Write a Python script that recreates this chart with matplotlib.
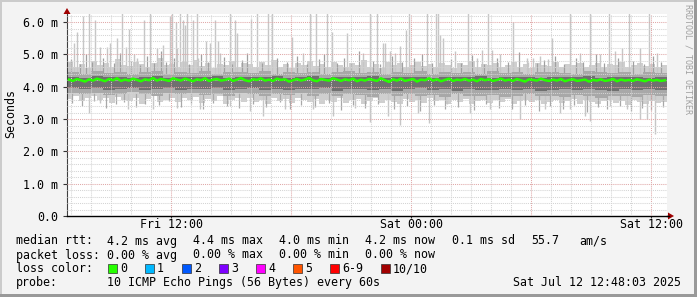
import matplotlib
matplotlib.use("Agg")
import matplotlib.pyplot as plt
from matplotlib.patches import Rectangle, Polygon
from datetime import datetime, timedelta

# ---------------- data (values in ms, times in minutes from start) ----------------
start = datetime(2025, 7, 11, 6, 48)
span_min = 1800

light_hi = [4.75, 4.62, 4.70, 4.58, 4.80, 4.66, 4.72, 4.60, 4.85, 4.68,
            4.64, 4.78, 4.70, 4.62, 4.74, 4.90, 4.66, 4.70, 4.60, 4.76,
            4.68, 4.82, 4.64, 4.72, 4.58, 4.70, 4.66, 4.80, 4.62, 4.74,
            4.70, 4.60, 4.76, 4.66, 4.84, 4.62, 4.70, 4.58, 4.72, 4.68,
            4.80, 4.64, 4.70, 4.62, 4.76, 4.68, 4.60, 4.74, 4.66, 4.82,
            4.62, 4.70, 4.58, 4.76, 4.66, 4.72, 4.60, 4.68, 4.78, 4.64,
            4.70, 4.62, 4.74, 4.66, 4.58, 4.72, 4.68, 4.80, 4.62, 4.70,
            4.66, 4.74, 4.60, 4.68, 4.76, 4.62, 4.70, 4.58, 4.72, 4.66,
            4.64, 4.78, 4.62, 4.70, 4.66, 4.74, 4.60, 4.68, 4.72, 4.62,
            4.70, 4.66, 4.76, 4.60, 4.68, 4.72, 4.64, 4.70, 4.62, 4.68]
light_lo = [3.62, 3.70, 3.55, 3.66, 3.72, 3.58, 3.64, 3.50, 3.68, 3.60,
            3.56, 3.66, 3.48, 3.62, 3.70, 3.54, 3.60, 3.66, 3.52, 3.64,
            3.58, 3.68, 3.50, 3.62, 3.56, 3.70, 3.46, 3.60, 3.64, 3.54,
            3.66, 3.52, 3.60, 3.48, 3.64, 3.56, 3.62, 3.50, 3.66, 3.58,
            3.54, 3.62, 3.46, 3.60, 3.52, 3.66, 3.50, 3.58, 3.62, 3.48,
            3.56, 3.64, 3.50, 3.60, 3.54, 3.46, 3.62, 3.52, 3.58, 3.50,
            3.64, 3.56, 3.60, 3.48, 3.58, 3.52, 3.62, 3.46, 3.56, 3.60,
            3.50, 3.58, 3.54, 3.62, 3.48, 3.56, 3.60, 3.52, 3.58, 3.46,
            3.54, 3.60, 3.50, 3.56, 3.62, 3.48, 3.58, 3.52, 3.46, 3.56,
            3.60, 3.50, 3.56, 3.44, 3.58, 3.52, 3.48, 3.56, 3.50, 3.54]

mid_hi = [4.45, 4.40, 4.48, 4.42, 4.46, 4.38, 4.44, 4.50, 4.40, 4.46,
          4.42, 4.48, 4.40, 4.44, 4.46, 4.42, 4.48, 4.40, 4.45, 4.42,
          4.46, 4.40, 4.44, 4.48, 4.42, 4.46, 4.40, 4.44, 4.42, 4.48,
          4.40, 4.46, 4.42, 4.44, 4.40, 4.48, 4.42, 4.46, 4.40, 4.44,
          4.46, 4.42, 4.40, 4.48, 4.44, 4.42, 4.46, 4.40, 4.44, 4.42]
mid_lo = [3.80, 3.76, 3.82, 3.74, 3.78, 3.84, 3.76, 3.72, 3.80, 3.76,
          3.82, 3.74, 3.78, 3.72, 3.80, 3.76, 3.70, 3.78, 3.74, 3.80,
          3.72, 3.76, 3.70, 3.78, 3.74, 3.68, 3.76, 3.72, 3.78, 3.70,
          3.74, 3.68, 3.76, 3.72, 3.70, 3.74, 3.68, 3.72, 3.76, 3.70,
          3.72, 3.68, 3.74, 3.70, 3.66, 3.72, 3.70, 3.68, 3.74, 3.70]

dark_hi = [4.30, 4.28, 4.32, 4.29, 4.31, 4.27, 4.30, 4.33, 4.28, 4.30,
           4.31, 4.29, 4.32, 4.28, 4.30, 4.31, 4.29, 4.33, 4.28, 4.30,
           4.32, 4.27, 4.30, 4.31, 4.29, 4.32, 4.28, 4.30, 4.31, 4.29,
           4.28, 4.31, 4.30, 4.29, 4.32, 4.28, 4.30, 4.31, 4.29, 4.28,
           4.31, 4.30, 4.29, 4.32, 4.28, 4.30, 4.29, 4.31, 4.28, 4.30]
dark_lo = [3.95, 3.92, 3.97, 3.90, 3.94, 3.96, 3.91, 3.93, 3.95, 3.90,
           3.94, 3.92, 3.96, 3.90, 3.93, 3.95, 3.91, 3.94, 3.89, 3.93,
           3.92, 3.95, 3.88, 3.92, 3.94, 3.90, 3.93, 3.88, 3.92, 3.95,
           3.90, 3.92, 3.88, 3.94, 3.91, 3.89, 3.93, 3.90, 3.92, 3.88,
           3.91, 3.94, 3.89, 3.92, 3.90, 3.88, 3.93, 3.90, 3.92, 3.91]

median = [4.22, 4.18, 4.24, 4.20, 4.16, 4.23, 4.19, 4.25, 4.21, 4.17,
          4.24, 4.20, 4.26, 4.18, 4.22, 4.19, 4.25, 4.21, 4.17, 4.23,
          4.20, 4.27, 4.19, 4.24, 4.21, 4.18, 4.26, 4.22, 4.19, 4.25,
          4.21, 4.17, 4.23, 4.20, 4.26, 4.18, 4.22, 4.24, 4.19, 4.21,
          4.25, 4.18, 4.22, 4.27, 4.20, 4.17, 4.23, 4.21, 4.26, 4.19,
          4.22, 4.18, 4.25, 4.21, 4.23, 4.16, 4.20, 4.24, 4.19, 4.22,
          4.27, 4.20, 4.17, 4.24, 4.21, 4.19, 4.26, 4.22, 4.18, 4.23,
          4.20, 4.25, 4.17, 4.22, 4.19, 4.24, 4.21, 4.18, 4.26, 4.20,
          4.15, 4.23, 4.19, 4.25, 4.18, 4.21, 4.24, 4.16, 4.22, 4.20,
          4.26, 4.19, 4.23, 4.17, 4.21, 4.25, 4.18, 4.22, 4.20, 4.24,
          4.19, 4.22, 4.17, 4.24, 4.20, 4.23, 4.18, 4.21, 4.25, 4.19,
          4.22, 4.18, 4.24, 4.20, 4.16, 4.23, 4.21, 4.19, 4.25, 4.20,
          4.18, 4.22, 4.19, 4.24, 4.17, 4.21, 4.23, 4.18, 4.20, 4.22,
          4.16, 4.21, 4.19, 4.23, 4.18, 4.20, 4.24, 4.17, 4.22, 4.19,
          4.21, 4.18, 4.23, 4.20, 4.17, 4.22, 4.19, 4.21, 4.18, 4.20]

spike_t = [6, 21, 30, 48, 66, 84, 99, 120, 129, 150, 165, 177, 186, 201, 210,
           231, 249, 270, 288, 309, 315, 327, 330, 339, 348, 354, 360, 378, 390,
           393, 417, 429, 444, 453, 459, 489, 504, 510, 552, 570, 603, 615, 675,
           708, 729, 747, 780, 795, 840, 888, 909, 930, 948, 954, 969, 984, 999,
           1017, 1026, 1080, 1107, 1113, 1119, 1128, 1164, 1203, 1230, 1245,
           1263, 1275, 1299, 1338, 1380, 1383, 1398, 1419, 1443, 1455, 1473,
           1509, 1539, 1569, 1599, 1626, 1644, 1665, 1686, 1719, 1746, 1770]
spike_v = [4.77, 5.36, 5.70, 6.19, 6.30, 6.07, 5.23, 5.23, 5.36, 5.50, 6.30, 5.23, 5.80, 5.00, 4.90,
           6.07, 6.30, 5.20, 5.30, 6.20, 6.30, 6.00, 5.20, 6.30, 6.05, 5.90, 6.30, 6.07, 6.30,
           4.90, 5.40, 5.36, 6.07, 5.40, 5.05, 6.30, 6.07, 5.66, 6.10, 6.30, 6.30, 6.30, 5.54,
           5.05, 6.30, 6.30, 6.30, 5.70, 5.66, 5.05, 6.30, 6.30, 5.35, 5.36, 5.10, 5.05, 5.25,
           5.76, 6.30, 6.30, 6.30, 6.30, 5.60, 5.50, 5.10, 6.30, 4.90, 5.15,
           6.30, 5.15, 5.00, 6.00, 4.90, 4.77, 4.90, 4.95, 4.85, 5.50, 4.55,
           6.30, 5.05, 6.30, 5.00, 6.30, 5.10, 5.20, 6.30, 5.20, 6.30, 5.05]

dip_t = [6, 66, 99, 183, 258, 330, 399, 489, 549, 588, 654, 738, 798, 864, 909,
         963, 999, 1053, 1086, 1140, 1209, 1269, 1359, 1434, 1479, 1509, 1554,
         1569, 1629, 1680, 1719, 1740, 1764]
dip_v = [3.70, 3.20, 3.50, 3.30, 3.30, 3.35, 3.30, 3.40, 3.25, 3.10, 3.30, 3.30, 3.10, 3.35, 2.90,
         3.10, 2.82, 3.20, 2.88, 3.45, 3.20, 3.30, 3.00, 3.30, 3.20, 3.30, 3.10,
         2.95, 3.40, 3.30, 3.00, 3.00, 2.55]

streak_up_t = [12, 39, 57, 75, 108, 141, 159, 192, 219, 240, 261, 282, 297, 321, 366,
               402, 423, 471, 495, 525, 540, 585, 630, 660, 690, 720, 756, 771, 810,
               831, 852, 876, 918, 939, 975, 1005, 1041, 1065, 1095, 1152, 1182, 1215,
               1251, 1290, 1323, 1356, 1410, 1431, 1464, 1491, 1527, 1548, 1587, 1611,
               1653, 1698, 1731, 1758, 1782]
streak_up_v = [4.85, 4.70, 5.00, 4.75, 4.90, 4.72, 5.05, 4.80, 4.68, 4.95, 4.74, 5.10, 4.78, 4.88, 4.70,
               5.00, 4.76, 4.92, 4.70, 4.84, 5.05, 4.72, 4.90, 4.78, 4.96, 4.70, 4.86, 5.00, 4.74,
               4.90, 4.72, 5.10, 4.80, 4.70, 4.95, 4.76, 4.88, 5.02, 4.72, 4.86, 4.74, 4.98,
               4.70, 4.90, 4.78, 5.06, 4.72, 4.84, 4.96, 4.70, 4.88, 4.76, 5.00, 4.72,
               4.90, 4.80, 4.70, 4.94, 4.76]
streak_dn_t = [15, 45, 81, 117, 147, 171, 207, 234, 276, 306, 342, 372, 408, 438, 480,
               516, 558, 597, 639, 669, 702, 744, 786, 822, 858, 894, 933, 981, 1020,
               1059, 1101, 1134, 1173, 1221, 1257, 1296, 1335, 1374, 1416, 1449, 1488,
               1521, 1560, 1593, 1620, 1659, 1692, 1725, 1752, 1788]
streak_dn_v = [3.50, 3.40, 3.55, 3.35, 3.45, 3.52, 3.38, 3.48, 3.42, 3.55, 3.36, 3.46, 3.30, 3.50, 3.40,
               3.34, 3.48, 3.38, 3.52, 3.30, 3.44, 3.36, 3.50, 3.28, 3.42, 3.34, 3.46, 3.30, 3.40,
               3.25, 3.44, 3.32, 3.38, 3.28, 3.46, 3.35, 3.30, 3.42, 3.26, 3.40, 3.32,
               3.44, 3.22, 3.36, 3.30, 3.40, 3.24, 3.34, 3.28, 3.38]

y_ticks = [0, 1, 2, 3, 4, 5, 6]
y_labels = ["0.0", "1.0 m", "2.0 m", "3.0 m", "4.0 m", "5.0 m", "6.0 m"]
x_label_ticks = [312, 1032, 1752]

loss_labels = ["0", "1", "2", "3", "4", "5", "6-9", "10/10"]
loss_colors = ["#26ff00", "#00b8ff", "#0059ff", "#7e00ff", "#ff00ff", "#ff5500", "#ff0000", "#a10000"]

rtt_items = ["median rtt:", "4.2 ms avg", "4.4 ms max", "4.0 ms min", "4.2 ms now",
             "0.1 ms sd", "55.7", "am/s"]
loss_items = ["packet loss:", "0.00 % avg", "0.00 % max", "0.00 % min", "0.00 % now"]
probe_items = ["probe:", "10 ICMP Echo Pings (56 Bytes) every 60s"]
stamp = "Sat Jul 12 12:48:03 2025"

# ---------------- drawing ----------------
W, H = 697, 297
MONO = "DejaVu Sans Mono"
FS = 8.4
fig = plt.figure(figsize=(W / 100, H / 100), dpi=100, facecolor="#f3f3f3")


def fx(x):
    return x / W


def fy(y):
    return 1 - y / H


ax = fig.add_axes([fx(67), fy(216), (667 - 67) / W, (216 - 14) / H])
ax.set_facecolor("white")
ax.set_xlim(0, span_min)
ax.set_ylim(0, 6.25)


def step_edges(vals):
    n = len(vals)
    xs = [span_min * i / n for i in range(n + 1)]
    return xs, list(vals) + [vals[-1]]


xs, lo = step_edges(light_lo)
_, hi = step_edges(light_hi)
ax.fill_between(xs, lo, hi, step="post", color="#cfcfcf", lw=0, zorder=1)
ax.vlines(spike_t, 4.4, spike_v, color="#c6c6c6", lw=1.0, zorder=1.1)
ax.vlines(dip_t, dip_v, 3.8, color="#c6c6c6", lw=1.0, zorder=1.1)
ax.vlines(streak_up_t, 4.4, streak_up_v, color="#a0a0a0", lw=0.9, zorder=1.15)
ax.vlines(streak_dn_t, streak_dn_v, 3.8, color="#a8a8a8", lw=0.9, zorder=1.15)
xs, lo = step_edges(mid_lo)
_, hi = step_edges(mid_hi)
ax.fill_between(xs, lo, hi, step="post", color="#a8a8a8", lw=0, zorder=1.2)
xs, lo = step_edges(dark_lo)
_, hi = step_edges(dark_hi)
ax.fill_between(xs, lo, hi, step="post", color="#707070", lw=0, zorder=1.3)

# grid (drawn on top of the smoke like rrdtool)
dot = (0, (1, 1))
for m in range(12, span_min, 60):
    major = ((start + timedelta(minutes=m)).hour % 6 == 0)
    ax.axvline(m, color="#e0a8a8" if major else "#d4d4d4", lw=0.75, ls=dot, zorder=3)
k = 1
while k * 0.2 < 6.25:
    v = k * 0.2
    major = abs(v - round(v)) < 1e-6
    ax.axhline(v, color="#e0a8a8" if major else "#d4d4d4", lw=0.75, ls=dot, zorder=3)
    k += 1

mt = [span_min * (i + 0.5) / len(median) for i in range(len(median))]
ax.plot(mt, median, color="#26ff00", lw=1.8, zorder=4)

ax.set_yticks(y_ticks)
ax.set_yticklabels(y_labels, fontfamily=MONO, fontsize=FS)
ax.set_xticks(x_label_ticks)
ax.set_xticklabels([(start + timedelta(minutes=m)).strftime("%a %H:%M") for m in x_label_ticks],
                   fontfamily=MONO, fontsize=FS)
ax.tick_params(axis="y", length=3, width=0.8, pad=3.5, color="#333333")
ax.tick_params(axis="x", length=1.5, width=0.8, pad=0.1, color="#333333")
for s in ("top", "right"):
    ax.spines[s].set_visible(False)
ax.spines["left"].set_color("#404040")
ax.spines["left"].set_linewidth(0.8)
ax.spines["bottom"].set_color("#000000")
ax.spines["bottom"].set_linewidth(1.0)

# axis extension and arrows
fig.add_artist(plt.Line2D([fx(667), fx(669)], [fy(216), fy(216)], color="black", lw=1.0))
fig.add_artist(Polygon([(fx(668), fy(212.5)), (fx(668), fy(219.5)), (fx(674), fy(216))],
                       closed=True, color="#a00000", lw=0))
fig.add_artist(Polygon([(fx(63.5), fy(14)), (fx(70.5), fy(14)), (fx(67), fy(8))],
                       closed=True, color="#a00000", lw=0))

# labels
fig.text(fx(11), fy(114), "Seconds", rotation=90, ha="center", va="center",
         fontfamily=MONO, fontsize=FS)
fig.text(fx(688), fy(4), "RRDTOOL / TOBI OETIKER", rotation=270, ha="center", va="top",
         fontfamily=MONO, fontsize=6, color="#a0a0a0")

col_x = [16, 107, 193, 279, 365, 452, 531, 579]
for txt, x in zip(rtt_items, col_x):
    fig.text(fx(x), fy(241), txt, ha="left", va="center", fontfamily=MONO, fontsize=FS)
for txt, x in zip(loss_items, col_x):
    fig.text(fx(x), fy(255), txt, ha="left", va="center", fontfamily=MONO, fontsize=FS)
fig.text(fx(16), fy(268.5), "loss color:", ha="left", va="center", fontfamily=MONO, fontsize=FS)
bx = 108
for lab, col in zip(loss_labels, loss_colors):
    fig.add_artist(Rectangle((fx(bx), fy(273)), 9 / W, 9 / H, facecolor=col,
                             edgecolor="#303030", lw=0.5))
    fig.text(fx(bx + 12), fy(268.5), lab, ha="left", va="center", fontfamily=MONO, fontsize=FS)
    bx = bx + 12 + 7 * len(lab) + 18
for txt, x in zip(probe_items, col_x):
    fig.text(fx(x), fy(282.5), txt, ha="left", va="center", fontfamily=MONO, fontsize=FS)
fig.text(fx(681), fy(282.5), stamp, ha="right", va="center", fontfamily=MONO, fontsize=FS)

# 3D frame
fig.add_artist(Rectangle((0, fy(2)), 1, 2 / H, facecolor="#cbcbcb", lw=0))
fig.add_artist(Rectangle((0, 0), 2 / W, 1, facecolor="#cbcbcb", lw=0))
fig.add_artist(Rectangle((fx(694), 0), 3 / W, 1, facecolor="#999999", lw=0))
fig.add_artist(Rectangle((0, 0), 1, 3 / H, facecolor="#999999", lw=0))

fig.savefig("out.png", dpi=100, facecolor=fig.get_facecolor())
